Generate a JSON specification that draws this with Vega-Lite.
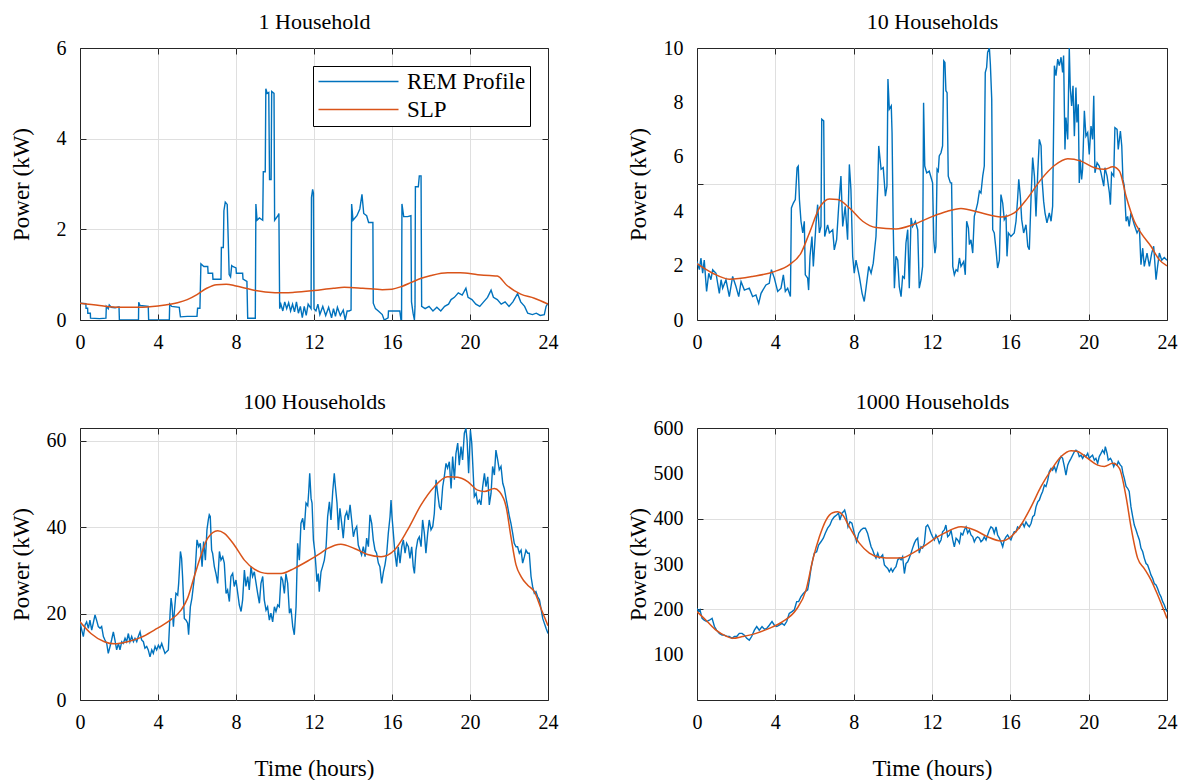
{
"$schema": "https://vega.github.io/schema/vega-lite/v6.json",
"padding": {"left": 9, "top": 9, "right": 5, "bottom": 5},
"background": "#ffffff",
"columns": 2,
"spacing": {"row": 108, "column": 149},
"bounds": "flush",
"resolve": {"scale": {"color": "independent"}},
"config": {
  "font": "Liberation Serif",
  "view": {"stroke": "#262626", "strokeWidth": 1},
  "axis": {"labelFont": "Liberation Serif", "titleFont": "Liberation Serif", "labelFontSize": 20, "labelColor": "#000000", "titleFontSize": 23, "titleFontWeight": "normal", "titleColor": "#000000", "domain": false, "tickColor": "#262626", "tickSize": -6, "tickWidth": 1, "gridColor": "#dfdfdf", "gridWidth": 1, "labelFlush": false, "labelOverlap": false}
},
"datasets": {
"p1r": [{"t":0,"kw":0.37},{"t":0.3,"kw":0.36},{"t":0.31,"kw":0.26},{"t":0.39,"kw":0.26},{"t":0.4,"kw":0.15},{"t":0.53,"kw":0.15},{"t":0.54,"kw":0.04},{"t":1.0,"kw":0.03},{"t":1.33,"kw":0.04},{"t":1.35,"kw":0.3},{"t":1.45,"kw":0.25},{"t":1.5,"kw":0.33},{"t":1.6,"kw":0.28},{"t":1.8,"kw":0.27},{"t":2.0,"kw":0.29},{"t":2.02,"kw":0},{"t":3.0,"kw":0},{"t":3.01,"kw":0.39},{"t":3.08,"kw":0.32},{"t":3.5,"kw":0.3},{"t":3.52,"kw":0},{"t":4.58,"kw":0},{"t":4.6,"kw":0.35},{"t":4.7,"kw":0.3},{"t":5.09,"kw":0.28},{"t":5.15,"kw":0.07},{"t":5.5,"kw":0.08},{"t":6.0,"kw":0.08},{"t":6.03,"kw":0.26},{"t":6.15,"kw":0.26},{"t":6.2,"kw":1.24},{"t":6.35,"kw":1.18},{"t":6.55,"kw":1.18},{"t":6.57,"kw":1.03},{"t":6.8,"kw":1.03},{"t":6.82,"kw":0.9},{"t":7.23,"kw":0.9},{"t":7.25,"kw":1.6},{"t":7.35,"kw":1.6},{"t":7.38,"kw":2.41},{"t":7.45,"kw":2.6},{"t":7.55,"kw":2.55},{"t":7.6,"kw":1.8},{"t":7.65,"kw":1.0},{"t":7.72,"kw":0.95},{"t":7.78,"kw":1.2},{"t":7.83,"kw":1.18},{"t":8.0,"kw":1.15},{"t":8.02,"kw":1.03},{"t":8.34,"kw":1.03},{"t":8.36,"kw":0.9},{"t":8.56,"kw":0.85},{"t":8.6,"kw":0.04},{"t":8.99,"kw":0.04},{"t":9.02,"kw":2.56},{"t":9.08,"kw":2.2},{"t":9.2,"kw":2.25},{"t":9.37,"kw":2.2},{"t":9.4,"kw":3.27},{"t":9.5,"kw":3.27},{"t":9.53,"kw":5.1},{"t":9.6,"kw":5.0},{"t":9.68,"kw":5.02},{"t":9.72,"kw":3.1},{"t":9.8,"kw":3.1},{"t":9.83,"kw":5.04},{"t":9.95,"kw":5.0},{"t":9.98,"kw":2.2},{"t":10.15,"kw":2.3},{"t":10.2,"kw":2.35},{"t":10.24,"kw":0.25},{"t":10.3,"kw":0.35},{"t":10.4,"kw":0.2},{"t":10.5,"kw":0.4},{"t":10.6,"kw":0.25},{"t":10.7,"kw":0.38},{"t":10.8,"kw":0.2},{"t":10.9,"kw":0.35},{"t":11.0,"kw":0.18},{"t":11.1,"kw":0.4},{"t":11.2,"kw":0.15},{"t":11.3,"kw":0.3},{"t":11.4,"kw":0.05},{"t":11.5,"kw":0.3},{"t":11.6,"kw":0.1},{"t":11.7,"kw":0.35},{"t":11.85,"kw":0.25},{"t":11.87,"kw":2.7},{"t":11.93,"kw":2.88},{"t":11.97,"kw":2.8},{"t":12.0,"kw":0.25},{"t":12.1,"kw":0.2},{"t":12.2,"kw":0.35},{"t":12.3,"kw":0.12},{"t":12.45,"kw":0.3},{"t":12.6,"kw":0.1},{"t":12.75,"kw":0.28},{"t":12.9,"kw":0.05},{"t":13.0,"kw":0.25},{"t":13.1,"kw":0.08},{"t":13.2,"kw":0.28},{"t":13.35,"kw":0.1},{"t":13.5,"kw":0.22},{"t":13.6,"kw":0.0},{"t":13.7,"kw":0.2},{"t":13.8,"kw":0.2},{"t":13.9,"kw":0.22},{"t":13.93,"kw":2.56},{"t":14.0,"kw":2.2},{"t":14.2,"kw":2.3},{"t":14.35,"kw":2.45},{"t":14.46,"kw":2.77},{"t":14.55,"kw":2.35},{"t":14.7,"kw":2.3},{"t":14.8,"kw":2.15},{"t":15.02,"kw":2.15},{"t":15.04,"kw":0.37},{"t":15.15,"kw":0.25},{"t":15.3,"kw":0.2},{"t":15.5,"kw":0.12},{"t":15.6,"kw":0.0},{"t":15.8,"kw":0.05},{"t":15.82,"kw":0.2},{"t":16.4,"kw":0.2},{"t":16.46,"kw":0.0},{"t":16.49,"kw":0.0},{"t":16.51,"kw":2.56},{"t":16.6,"kw":2.28},{"t":16.8,"kw":2.28},{"t":16.97,"kw":2.3},{"t":17.0,"kw":0.4},{"t":17.08,"kw":0.15},{"t":17.15,"kw":0.0},{"t":17.18,"kw":0.3},{"t":17.2,"kw":2.94},{"t":17.35,"kw":2.94},{"t":17.4,"kw":3.18},{"t":17.49,"kw":3.18},{"t":17.52,"kw":0.3},{"t":17.7,"kw":0.25},{"t":17.9,"kw":0.3},{"t":18.1,"kw":0.2},{"t":18.3,"kw":0.28},{"t":18.5,"kw":0.2},{"t":18.7,"kw":0.3},{"t":18.9,"kw":0.35},{"t":19.03,"kw":0.45},{"t":19.2,"kw":0.5},{"t":19.4,"kw":0.6},{"t":19.6,"kw":0.55},{"t":19.79,"kw":0.7},{"t":19.9,"kw":0.5},{"t":20.1,"kw":0.45},{"t":20.3,"kw":0.35},{"t":20.5,"kw":0.3},{"t":20.7,"kw":0.4},{"t":20.9,"kw":0.5},{"t":21.08,"kw":0.66},{"t":21.2,"kw":0.5},{"t":21.4,"kw":0.45},{"t":21.6,"kw":0.35},{"t":21.8,"kw":0.4},{"t":22.0,"kw":0.3},{"t":22.2,"kw":0.4},{"t":22.44,"kw":0.58},{"t":22.6,"kw":0.4},{"t":22.8,"kw":0.3},{"t":22.96,"kw":0.15},{"t":23.2,"kw":0.12},{"t":23.4,"kw":0.15},{"t":23.6,"kw":0.1},{"t":23.81,"kw":0.12},{"t":23.9,"kw":0.3},{"t":24.0,"kw":0.37}],
"p1s": [{"t":0,"kw":0.37},{"t":1,"kw":0.32},{"t":2,"kw":0.28},{"t":3,"kw":0.28},{"t":4,"kw":0.31},{"t":5,"kw":0.38},{"t":5.5,"kw":0.45},{"t":6,"kw":0.56},{"t":6.5,"kw":0.7},{"t":7,"kw":0.78},{"t":7.5,"kw":0.79},{"t":8,"kw":0.75},{"t":8.5,"kw":0.7},{"t":9,"kw":0.65},{"t":9.5,"kw":0.62},{"t":10.5,"kw":0.6},{"t":11,"kw":0.61},{"t":12,"kw":0.65},{"t":13,"kw":0.7},{"t":13.55,"kw":0.72},{"t":14.5,"kw":0.7},{"t":15.5,"kw":0.67},{"t":16,"kw":0.68},{"t":16.5,"kw":0.74},{"t":17,"kw":0.83},{"t":17.5,"kw":0.92},{"t":18,"kw":0.98},{"t":18.85,"kw":1.04},{"t":19.5,"kw":1.04},{"t":20.4,"kw":1.0},{"t":21.0,"kw":0.98},{"t":21.4,"kw":0.97},{"t":21.9,"kw":0.76},{"t":22.6,"kw":0.57},{"t":23.3,"kw":0.48},{"t":24,"kw":0.35}],
"p2r": [{"t":0,"kw":2.15},{"t":0.12,"kw":1.85},{"t":0.2,"kw":2.28},{"t":0.29,"kw":1.72},{"t":0.37,"kw":2.2},{"t":0.49,"kw":1.05},{"t":0.6,"kw":1.72},{"t":0.71,"kw":1.48},{"t":0.8,"kw":1.85},{"t":0.97,"kw":1.72},{"t":1.14,"kw":0.98},{"t":1.23,"kw":1.48},{"t":1.31,"kw":1.17},{"t":1.48,"kw":1.48},{"t":1.65,"kw":0.86},{"t":1.82,"kw":1.6},{"t":1.99,"kw":1.23},{"t":2.13,"kw":0.86},{"t":2.25,"kw":1.41},{"t":2.42,"kw":1.1},{"t":2.67,"kw":1.17},{"t":2.84,"kw":0.86},{"t":3.01,"kw":0.92},{"t":3.15,"kw":0.61},{"t":3.27,"kw":0.98},{"t":3.52,"kw":1.29},{"t":3.69,"kw":1.35},{"t":3.8,"kw":1.85},{"t":3.95,"kw":1.54},{"t":4.12,"kw":1.05},{"t":4.29,"kw":1.17},{"t":4.41,"kw":1.66},{"t":4.51,"kw":1.05},{"t":4.63,"kw":1.17},{"t":4.77,"kw":0.86},{"t":4.82,"kw":4.12},{"t":4.92,"kw":4.3},{"t":5.02,"kw":4.43},{"t":5.11,"kw":5.6},{"t":5.17,"kw":5.66},{"t":5.23,"kw":4.43},{"t":5.31,"kw":3.63},{"t":5.4,"kw":3.2},{"t":5.48,"kw":3.63},{"t":5.53,"kw":1.66},{"t":5.65,"kw":1.54},{"t":5.7,"kw":1.1},{"t":5.77,"kw":2.34},{"t":5.87,"kw":3.07},{"t":5.94,"kw":1.97},{"t":6.08,"kw":3.57},{"t":6.16,"kw":4.24},{"t":6.25,"kw":3.2},{"t":6.33,"kw":3.44},{"t":6.37,"kw":7.38},{"t":6.47,"kw":7.32},{"t":6.52,"kw":3.07},{"t":6.67,"kw":3.5},{"t":6.76,"kw":3.2},{"t":6.93,"kw":3.32},{"t":7.01,"kw":2.58},{"t":7.13,"kw":2.95},{"t":7.23,"kw":4.12},{"t":7.35,"kw":5.29},{"t":7.44,"kw":3.44},{"t":7.57,"kw":4.18},{"t":7.69,"kw":2.95},{"t":7.78,"kw":5.72},{"t":7.86,"kw":4.8},{"t":7.95,"kw":2.34},{"t":8.03,"kw":1.72},{"t":8.12,"kw":2.2},{"t":8.29,"kw":1.6},{"t":8.43,"kw":0.98},{"t":8.54,"kw":0.68},{"t":8.63,"kw":1.17},{"t":8.77,"kw":1.97},{"t":8.89,"kw":1.72},{"t":9.0,"kw":2.09},{"t":9.14,"kw":3.07},{"t":9.23,"kw":4.92},{"t":9.28,"kw":6.4},{"t":9.4,"kw":5.54},{"t":9.51,"kw":5.6},{"t":9.62,"kw":4.55},{"t":9.7,"kw":4.92},{"t":9.75,"kw":8.86},{"t":9.82,"kw":7.75},{"t":9.92,"kw":7.87},{"t":9.96,"kw":6.89},{"t":10.02,"kw":3.44},{"t":10.08,"kw":1.17},{"t":10.16,"kw":2.34},{"t":10.25,"kw":2.2},{"t":10.33,"kw":1.23},{"t":10.42,"kw":0.86},{"t":10.5,"kw":1.6},{"t":10.59,"kw":1.54},{"t":10.67,"kw":2.83},{"t":10.76,"kw":3.32},{"t":10.84,"kw":1.17},{"t":10.93,"kw":3.75},{"t":11.01,"kw":3.44},{"t":11.15,"kw":3.63},{"t":11.27,"kw":3.32},{"t":11.35,"kw":1.17},{"t":11.44,"kw":1.48},{"t":11.52,"kw":1.97},{"t":11.57,"kw":7.99},{"t":11.63,"kw":5.66},{"t":11.73,"kw":5.41},{"t":11.86,"kw":5.47},{"t":12.03,"kw":5.04},{"t":12.09,"kw":2.95},{"t":12.15,"kw":2.46},{"t":12.2,"kw":2.7},{"t":12.26,"kw":5.54},{"t":12.32,"kw":5.47},{"t":12.37,"kw":6.03},{"t":12.46,"kw":6.15},{"t":12.54,"kw":6.4},{"t":12.6,"kw":9.53},{"t":12.66,"kw":9.47},{"t":12.71,"kw":8.43},{"t":12.77,"kw":8.36},{"t":12.83,"kw":5.29},{"t":12.94,"kw":5.04},{"t":13.0,"kw":5.04},{"t":13.06,"kw":1.97},{"t":13.14,"kw":1.66},{"t":13.23,"kw":1.85},{"t":13.31,"kw":1.8},{"t":13.4,"kw":2.28},{"t":13.48,"kw":1.97},{"t":13.62,"kw":2.15},{"t":13.7,"kw":1.66},{"t":13.77,"kw":3.63},{"t":13.86,"kw":3.38},{"t":13.91,"kw":2.77},{"t":13.99,"kw":2.95},{"t":14.08,"kw":2.46},{"t":14.16,"kw":3.81},{"t":14.25,"kw":4.06},{"t":14.33,"kw":4.3},{"t":14.42,"kw":4.74},{"t":14.5,"kw":4.67},{"t":14.59,"kw":5.29},{"t":14.67,"kw":5.66},{"t":14.72,"kw":9.1},{"t":14.79,"kw":9.29},{"t":14.84,"kw":9.84},{"t":14.93,"kw":10.0},{"t":14.98,"kw":9.41},{"t":15.05,"kw":8.12},{"t":15.1,"kw":3.32},{"t":15.18,"kw":3.2},{"t":15.27,"kw":2.58},{"t":15.35,"kw":1.91},{"t":15.44,"kw":2.2},{"t":15.52,"kw":4.61},{"t":15.61,"kw":4.3},{"t":15.69,"kw":3.69},{"t":15.78,"kw":3.81},{"t":15.83,"kw":2.34},{"t":15.9,"kw":3.2},{"t":16.03,"kw":3.07},{"t":16.2,"kw":3.2},{"t":16.29,"kw":3.63},{"t":16.37,"kw":4.43},{"t":16.43,"kw":5.17},{"t":16.51,"kw":4.55},{"t":16.58,"kw":3.69},{"t":16.68,"kw":3.2},{"t":16.8,"kw":3.5},{"t":16.89,"kw":2.71},{"t":16.97,"kw":2.58},{"t":17.06,"kw":4.55},{"t":17.14,"kw":5.97},{"t":17.23,"kw":5.29},{"t":17.31,"kw":3.81},{"t":17.4,"kw":5.41},{"t":17.48,"kw":6.64},{"t":17.57,"kw":6.4},{"t":17.62,"kw":5.17},{"t":17.7,"kw":4.37},{"t":17.77,"kw":3.94},{"t":17.87,"kw":3.57},{"t":17.99,"kw":3.94},{"t":18.08,"kw":3.63},{"t":18.16,"kw":4.18},{"t":18.25,"kw":9.35},{"t":18.33,"kw":8.98},{"t":18.42,"kw":9.59},{"t":18.5,"kw":9.35},{"t":18.59,"kw":9.66},{"t":18.67,"kw":9.1},{"t":18.72,"kw":9.72},{"t":18.79,"kw":6.27},{"t":18.84,"kw":7.44},{"t":18.93,"kw":6.64},{"t":19.01,"kw":10.0},{"t":19.06,"kw":8.55},{"t":19.13,"kw":7.87},{"t":19.2,"kw":8.61},{"t":19.27,"kw":6.76},{"t":19.35,"kw":8.55},{"t":19.4,"kw":7.26},{"t":19.47,"kw":7.93},{"t":19.52,"kw":5.04},{"t":19.57,"kw":5.9},{"t":19.64,"kw":5.17},{"t":19.69,"kw":5.54},{"t":19.78,"kw":7.69},{"t":19.86,"kw":6.76},{"t":19.95,"kw":6.89},{"t":20.03,"kw":6.09},{"t":20.12,"kw":7.13},{"t":20.2,"kw":6.64},{"t":20.26,"kw":8.24},{"t":20.32,"kw":5.41},{"t":20.43,"kw":5.78},{"t":20.54,"kw":5.66},{"t":20.63,"kw":5.41},{"t":20.77,"kw":4.92},{"t":20.83,"kw":5.6},{"t":20.94,"kw":5.29},{"t":21.06,"kw":4.67},{"t":21.11,"kw":4.24},{"t":21.17,"kw":5.41},{"t":21.28,"kw":5.29},{"t":21.34,"kw":7.07},{"t":21.45,"kw":7.01},{"t":21.51,"kw":6.27},{"t":21.62,"kw":6.95},{"t":21.69,"kw":6.4},{"t":21.75,"kw":5.17},{"t":21.82,"kw":4.92},{"t":21.91,"kw":3.63},{"t":21.99,"kw":3.81},{"t":22.07,"kw":3.44},{"t":22.16,"kw":3.94},{"t":22.33,"kw":3.5},{"t":22.47,"kw":3.2},{"t":22.59,"kw":3.38},{"t":22.67,"kw":2.03},{"t":22.76,"kw":2.64},{"t":22.84,"kw":1.97},{"t":22.98,"kw":2.46},{"t":23.1,"kw":1.97},{"t":23.22,"kw":2.46},{"t":23.32,"kw":2.71},{"t":23.44,"kw":1.48},{"t":23.52,"kw":1.97},{"t":23.61,"kw":2.46},{"t":23.73,"kw":2.2},{"t":23.86,"kw":2.3},{"t":24.0,"kw":2.2}],
"p2s": [{"t":0,"kw":2.07},{"t":0.8,"kw":1.72},{"t":1.65,"kw":1.5},{"t":2.84,"kw":1.6},{"t":3.95,"kw":1.78},{"t":4.71,"kw":2.03},{"t":5.31,"kw":2.46},{"t":5.74,"kw":3.2},{"t":6.25,"kw":4.12},{"t":6.76,"kw":4.45},{"t":7.18,"kw":4.43},{"t":7.78,"kw":4.12},{"t":8.46,"kw":3.63},{"t":9.14,"kw":3.4},{"t":10.16,"kw":3.35},{"t":11.01,"kw":3.5},{"t":12.03,"kw":3.81},{"t":12.7,"kw":3.98},{"t":13.48,"kw":4.1},{"t":14.5,"kw":3.94},{"t":15.52,"kw":3.79},{"t":16.2,"kw":3.94},{"t":16.89,"kw":4.49},{"t":17.57,"kw":5.17},{"t":18.25,"kw":5.68},{"t":18.93,"kw":5.93},{"t":19.61,"kw":5.84},{"t":20.29,"kw":5.6},{"t":20.8,"kw":5.54},{"t":21.23,"kw":5.63},{"t":21.57,"kw":5.48},{"t":21.91,"kw":4.55},{"t":22.33,"kw":3.63},{"t":22.67,"kw":3.2},{"t":23.18,"kw":2.71},{"t":23.61,"kw":2.21},{"t":24,"kw":1.99}],
"p3r": [{"t":0,"kw":18.1},{"t":0.09,"kw":16.2},{"t":0.17,"kw":14.7},{"t":0.26,"kw":17.4},{"t":0.34,"kw":18.1},{"t":0.43,"kw":16.6},{"t":0.51,"kw":18.5},{"t":0.6,"kw":16.2},{"t":0.68,"kw":17.8},{"t":0.77,"kw":19.7},{"t":0.85,"kw":18.5},{"t":0.94,"kw":17.0},{"t":1.03,"kw":16.6},{"t":1.11,"kw":17.0},{"t":1.2,"kw":14.7},{"t":1.28,"kw":13.9},{"t":1.37,"kw":13.1},{"t":1.45,"kw":10.8},{"t":1.54,"kw":12.4},{"t":1.62,"kw":13.9},{"t":1.71,"kw":15.8},{"t":1.79,"kw":13.9},{"t":1.88,"kw":11.6},{"t":1.97,"kw":13.1},{"t":2.05,"kw":11.6},{"t":2.14,"kw":13.5},{"t":2.22,"kw":13.1},{"t":2.31,"kw":14.3},{"t":2.39,"kw":13.5},{"t":2.48,"kw":15.4},{"t":2.56,"kw":13.5},{"t":2.65,"kw":14.7},{"t":2.74,"kw":13.5},{"t":2.82,"kw":14.3},{"t":2.91,"kw":13.5},{"t":2.99,"kw":14.7},{"t":3.08,"kw":15.8},{"t":3.16,"kw":13.9},{"t":3.25,"kw":13.5},{"t":3.33,"kw":12.0},{"t":3.42,"kw":12.4},{"t":3.5,"kw":11.6},{"t":3.59,"kw":10.0},{"t":3.68,"kw":11.6},{"t":3.76,"kw":10.8},{"t":3.85,"kw":12.4},{"t":3.93,"kw":11.6},{"t":4.02,"kw":12.7},{"t":4.1,"kw":12.0},{"t":4.19,"kw":13.1},{"t":4.27,"kw":12.0},{"t":4.36,"kw":10.8},{"t":4.44,"kw":11.2},{"t":4.53,"kw":11.6},{"t":4.62,"kw":20.1},{"t":4.67,"kw":23.6},{"t":4.72,"kw":22.0},{"t":4.79,"kw":17.0},{"t":4.84,"kw":20.5},{"t":4.92,"kw":24.7},{"t":5.01,"kw":24.3},{"t":5.06,"kw":27.0},{"t":5.15,"kw":34.4},{"t":5.21,"kw":32.8},{"t":5.26,"kw":28.6},{"t":5.35,"kw":18.9},{"t":5.44,"kw":18.5},{"t":5.52,"kw":17.8},{"t":5.57,"kw":15.1},{"t":5.66,"kw":21.6},{"t":5.74,"kw":23.6},{"t":5.83,"kw":27.0},{"t":5.91,"kw":30.1},{"t":6.0,"kw":37.1},{"t":6.09,"kw":35.5},{"t":6.17,"kw":36.3},{"t":6.26,"kw":30.9},{"t":6.34,"kw":36.7},{"t":6.43,"kw":32.4},{"t":6.51,"kw":39.4},{"t":6.58,"kw":41.7},{"t":6.63,"kw":42.9},{"t":6.68,"kw":42.5},{"t":6.75,"kw":34.7},{"t":6.8,"kw":34.0},{"t":6.89,"kw":30.9},{"t":6.97,"kw":29.3},{"t":7.06,"kw":27.0},{"t":7.15,"kw":34.4},{"t":7.23,"kw":32.4},{"t":7.32,"kw":33.2},{"t":7.4,"kw":31.7},{"t":7.49,"kw":24.7},{"t":7.57,"kw":25.5},{"t":7.66,"kw":22.8},{"t":7.74,"kw":28.6},{"t":7.83,"kw":29.3},{"t":7.91,"kw":26.3},{"t":8.0,"kw":27.8},{"t":8.09,"kw":24.7},{"t":8.17,"kw":22.0},{"t":8.26,"kw":20.5},{"t":8.34,"kw":23.2},{"t":8.43,"kw":30.1},{"t":8.51,"kw":26.3},{"t":8.6,"kw":28.6},{"t":8.68,"kw":25.5},{"t":8.77,"kw":30.9},{"t":8.85,"kw":28.6},{"t":8.94,"kw":29.7},{"t":9.03,"kw":27.0},{"t":9.11,"kw":24.7},{"t":9.2,"kw":22.4},{"t":9.28,"kw":27.0},{"t":9.37,"kw":28.6},{"t":9.45,"kw":23.2},{"t":9.54,"kw":20.8},{"t":9.62,"kw":21.6},{"t":9.71,"kw":18.5},{"t":9.79,"kw":20.1},{"t":9.88,"kw":18.1},{"t":9.97,"kw":21.6},{"t":10.05,"kw":20.5},{"t":10.14,"kw":22.0},{"t":10.22,"kw":21.6},{"t":10.31,"kw":28.6},{"t":10.39,"kw":27.8},{"t":10.48,"kw":24.7},{"t":10.56,"kw":29.3},{"t":10.65,"kw":27.0},{"t":10.74,"kw":20.1},{"t":10.82,"kw":21.2},{"t":10.91,"kw":17.0},{"t":10.99,"kw":15.1},{"t":11.08,"kw":21.6},{"t":11.16,"kw":36.3},{"t":11.25,"kw":32.4},{"t":11.33,"kw":40.9},{"t":11.42,"kw":42.1},{"t":11.5,"kw":39.4},{"t":11.59,"kw":45.6},{"t":11.68,"kw":45.0},{"t":11.73,"kw":48.3},{"t":11.78,"kw":52.5},{"t":11.85,"kw":46.7},{"t":11.9,"kw":45.6},{"t":11.97,"kw":37.1},{"t":12.05,"kw":34.0},{"t":12.1,"kw":30.9},{"t":12.15,"kw":27.4},{"t":12.22,"kw":29.3},{"t":12.27,"kw":25.1},{"t":12.36,"kw":29.7},{"t":12.44,"kw":30.9},{"t":12.53,"kw":32.4},{"t":12.62,"kw":35.5},{"t":12.7,"kw":42.5},{"t":12.79,"kw":45.9},{"t":12.87,"kw":41.7},{"t":12.96,"kw":48.3},{"t":13.04,"kw":52.5},{"t":13.09,"kw":49.8},{"t":13.18,"kw":45.6},{"t":13.25,"kw":39.4},{"t":13.33,"kw":44.4},{"t":13.42,"kw":40.9},{"t":13.5,"kw":37.5},{"t":13.59,"kw":42.5},{"t":13.68,"kw":43.6},{"t":13.76,"kw":41.7},{"t":13.85,"kw":45.2},{"t":13.93,"kw":41.7},{"t":14.02,"kw":37.8},{"t":14.1,"kw":39.4},{"t":14.19,"kw":40.2},{"t":14.27,"kw":35.9},{"t":14.36,"kw":34.7},{"t":14.44,"kw":33.6},{"t":14.53,"kw":35.5},{"t":14.62,"kw":33.2},{"t":14.7,"kw":37.5},{"t":14.79,"kw":35.5},{"t":14.87,"kw":42.9},{"t":14.96,"kw":40.9},{"t":15.04,"kw":37.1},{"t":15.13,"kw":34.7},{"t":15.21,"kw":34.0},{"t":15.3,"kw":31.7},{"t":15.38,"kw":30.9},{"t":15.47,"kw":27.0},{"t":15.56,"kw":29.7},{"t":15.64,"kw":31.3},{"t":15.73,"kw":34.0},{"t":15.81,"kw":38.6},{"t":15.9,"kw":42.5},{"t":15.95,"kw":46.3},{"t":16.0,"kw":42.5},{"t":16.07,"kw":38.6},{"t":16.15,"kw":34.0},{"t":16.24,"kw":30.9},{"t":16.32,"kw":35.5},{"t":16.41,"kw":31.7},{"t":16.5,"kw":35.5},{"t":16.58,"kw":37.1},{"t":16.67,"kw":34.0},{"t":16.75,"kw":36.3},{"t":16.84,"kw":35.5},{"t":16.92,"kw":32.8},{"t":17.01,"kw":35.5},{"t":17.09,"kw":30.9},{"t":17.15,"kw":29.3},{"t":17.23,"kw":34.7},{"t":17.32,"kw":37.1},{"t":17.4,"kw":37.8},{"t":17.49,"kw":35.5},{"t":17.57,"kw":41.7},{"t":17.66,"kw":38.6},{"t":17.74,"kw":34.0},{"t":17.83,"kw":38.6},{"t":17.91,"kw":41.7},{"t":18.0,"kw":39.4},{"t":18.09,"kw":40.2},{"t":18.17,"kw":43.2},{"t":18.26,"kw":51.0},{"t":18.34,"kw":47.9},{"t":18.43,"kw":44.8},{"t":18.51,"kw":44.0},{"t":18.6,"kw":49.4},{"t":18.68,"kw":51.7},{"t":18.77,"kw":54.8},{"t":18.85,"kw":53.7},{"t":18.94,"kw":55.2},{"t":19.03,"kw":49.0},{"t":19.11,"kw":56.4},{"t":19.2,"kw":51.0},{"t":19.28,"kw":57.1},{"t":19.37,"kw":59.5},{"t":19.45,"kw":54.4},{"t":19.54,"kw":58.7},{"t":19.62,"kw":55.6},{"t":19.71,"kw":61.8},{"t":19.79,"kw":62.9},{"t":19.85,"kw":60.2},{"t":19.93,"kw":52.5},{"t":20.02,"kw":62.5},{"t":20.09,"kw":59.5},{"t":20.14,"kw":54.8},{"t":20.22,"kw":47.1},{"t":20.31,"kw":47.9},{"t":20.39,"kw":45.6},{"t":20.48,"kw":46.3},{"t":20.56,"kw":45.2},{"t":20.65,"kw":49.4},{"t":20.74,"kw":52.5},{"t":20.82,"kw":49.4},{"t":20.91,"kw":51.7},{"t":20.99,"kw":45.2},{"t":21.08,"kw":47.9},{"t":21.16,"kw":54.1},{"t":21.25,"kw":52.1},{"t":21.33,"kw":57.9},{"t":21.42,"kw":55.6},{"t":21.5,"kw":53.3},{"t":21.59,"kw":54.1},{"t":21.68,"kw":50.2},{"t":21.76,"kw":49.0},{"t":21.85,"kw":46.7},{"t":21.93,"kw":44.8},{"t":22.02,"kw":42.5},{"t":22.1,"kw":40.9},{"t":22.19,"kw":38.6},{"t":22.27,"kw":36.3},{"t":22.36,"kw":35.5},{"t":22.44,"kw":35.5},{"t":22.53,"kw":34.0},{"t":22.62,"kw":34.7},{"t":22.7,"kw":31.7},{"t":22.79,"kw":33.2},{"t":22.87,"kw":34.7},{"t":22.96,"kw":34.0},{"t":23.04,"kw":34.0},{"t":23.13,"kw":28.6},{"t":23.21,"kw":26.3},{"t":23.3,"kw":24.7},{"t":23.38,"kw":25.1},{"t":23.47,"kw":23.9},{"t":23.56,"kw":23.2},{"t":23.64,"kw":21.2},{"t":23.73,"kw":18.9},{"t":23.81,"kw":17.8},{"t":23.9,"kw":16.6},{"t":24.0,"kw":15.4}],
"p3s": [{"t":0,"kw":18.1},{"t":0.56,"kw":15.4},{"t":1.25,"kw":13.5},{"t":1.76,"kw":13.0},{"t":2.44,"kw":13.5},{"t":3.13,"kw":14.5},{"t":3.81,"kw":16.2},{"t":4.5,"kw":18.1},{"t":5.18,"kw":20.8},{"t":5.52,"kw":23.6},{"t":5.86,"kw":28.6},{"t":6.21,"kw":33.6},{"t":6.55,"kw":37.5},{"t":7.06,"kw":39.2},{"t":7.4,"kw":38.6},{"t":7.91,"kw":35.9},{"t":8.43,"kw":32.4},{"t":8.94,"kw":30.3},{"t":9.62,"kw":29.3},{"t":10.31,"kw":29.3},{"t":10.99,"kw":30.5},{"t":11.68,"kw":32.2},{"t":12.36,"kw":34.1},{"t":12.7,"kw":35.1},{"t":13.38,"kw":36.1},{"t":14.07,"kw":35.1},{"t":14.75,"kw":33.7},{"t":15.44,"kw":33.2},{"t":16.12,"kw":34.7},{"t":16.8,"kw":39.4},{"t":17.49,"kw":45.2},{"t":18.17,"kw":49.4},{"t":18.85,"kw":51.7},{"t":19.37,"kw":51.6},{"t":19.88,"kw":50.6},{"t":20.39,"kw":48.6},{"t":20.74,"kw":48.3},{"t":21.25,"kw":49.0},{"t":21.5,"kw":48.3},{"t":21.85,"kw":44.8},{"t":22.1,"kw":37.8},{"t":22.36,"kw":31.3},{"t":22.62,"kw":28.6},{"t":22.96,"kw":26.6},{"t":23.3,"kw":25.1},{"t":23.64,"kw":21.2},{"t":24,"kw":17.2}],
"p4r": [{"t":0,"kw":202},{"t":0.09,"kw":195},{"t":0.15,"kw":199},{"t":0.26,"kw":180},{"t":0.37,"kw":176},{"t":0.49,"kw":173},{"t":0.63,"kw":176},{"t":0.77,"kw":180},{"t":0.89,"kw":162},{"t":1.0,"kw":154},{"t":1.14,"kw":147},{"t":1.28,"kw":143},{"t":1.4,"kw":143},{"t":1.51,"kw":141},{"t":1.65,"kw":140},{"t":1.79,"kw":136},{"t":1.91,"kw":140},{"t":2.03,"kw":140},{"t":2.16,"kw":147},{"t":2.3,"kw":147},{"t":2.42,"kw":143},{"t":2.54,"kw":136},{"t":2.67,"kw":132},{"t":2.79,"kw":140},{"t":2.93,"kw":154},{"t":3.05,"kw":162},{"t":3.18,"kw":154},{"t":3.32,"kw":162},{"t":3.44,"kw":156},{"t":3.56,"kw":158},{"t":3.69,"kw":165},{"t":3.83,"kw":173},{"t":3.95,"kw":165},{"t":4.07,"kw":162},{"t":4.2,"kw":165},{"t":4.34,"kw":169},{"t":4.46,"kw":165},{"t":4.58,"kw":173},{"t":4.71,"kw":191},{"t":4.85,"kw":195},{"t":4.97,"kw":199},{"t":5.09,"kw":217},{"t":5.19,"kw":217},{"t":5.31,"kw":228},{"t":5.43,"kw":235},{"t":5.53,"kw":239},{"t":5.65,"kw":243},{"t":5.74,"kw":265},{"t":5.82,"kw":290},{"t":5.91,"kw":309},{"t":5.99,"kw":324},{"t":6.11,"kw":327},{"t":6.21,"kw":342},{"t":6.33,"kw":349},{"t":6.45,"kw":357},{"t":6.55,"kw":368},{"t":6.67,"kw":379},{"t":6.79,"kw":386},{"t":6.89,"kw":397},{"t":7.01,"kw":404},{"t":7.13,"kw":408},{"t":7.23,"kw":412},{"t":7.3,"kw":397},{"t":7.4,"kw":412},{"t":7.47,"kw":415},{"t":7.54,"kw":419},{"t":7.61,"kw":408},{"t":7.71,"kw":382},{"t":7.81,"kw":393},{"t":7.91,"kw":390},{"t":8.03,"kw":368},{"t":8.15,"kw":349},{"t":8.26,"kw":368},{"t":8.37,"kw":375},{"t":8.49,"kw":379},{"t":8.6,"kw":379},{"t":8.71,"kw":368},{"t":8.8,"kw":353},{"t":8.89,"kw":338},{"t":8.97,"kw":331},{"t":9.06,"kw":320},{"t":9.14,"kw":313},{"t":9.23,"kw":324},{"t":9.31,"kw":313},{"t":9.4,"kw":316},{"t":9.48,"kw":320},{"t":9.57,"kw":298},{"t":9.65,"kw":294},{"t":9.74,"kw":290},{"t":9.82,"kw":283},{"t":9.91,"kw":290},{"t":9.99,"kw":283},{"t":10.08,"kw":290},{"t":10.16,"kw":294},{"t":10.25,"kw":309},{"t":10.33,"kw":313},{"t":10.42,"kw":309},{"t":10.5,"kw":316},{"t":10.59,"kw":279},{"t":10.67,"kw":301},{"t":10.76,"kw":305},{"t":10.84,"kw":313},{"t":10.93,"kw":324},{"t":11.01,"kw":335},{"t":11.1,"kw":346},{"t":11.18,"kw":353},{"t":11.27,"kw":357},{"t":11.35,"kw":324},{"t":11.44,"kw":338},{"t":11.52,"kw":335},{"t":11.61,"kw":346},{"t":11.69,"kw":382},{"t":11.78,"kw":386},{"t":11.86,"kw":379},{"t":11.95,"kw":368},{"t":12.03,"kw":360},{"t":12.12,"kw":353},{"t":12.2,"kw":364},{"t":12.29,"kw":357},{"t":12.37,"kw":346},{"t":12.46,"kw":353},{"t":12.54,"kw":371},{"t":12.63,"kw":375},{"t":12.71,"kw":386},{"t":12.8,"kw":360},{"t":12.89,"kw":364},{"t":12.97,"kw":375},{"t":13.06,"kw":353},{"t":13.14,"kw":338},{"t":13.23,"kw":357},{"t":13.31,"kw":353},{"t":13.4,"kw":346},{"t":13.48,"kw":368},{"t":13.57,"kw":364},{"t":13.65,"kw":375},{"t":13.74,"kw":382},{"t":13.82,"kw":368},{"t":13.91,"kw":375},{"t":13.99,"kw":364},{"t":14.08,"kw":360},{"t":14.16,"kw":349},{"t":14.25,"kw":357},{"t":14.33,"kw":360},{"t":14.42,"kw":357},{"t":14.5,"kw":349},{"t":14.59,"kw":353},{"t":14.67,"kw":360},{"t":14.76,"kw":353},{"t":14.84,"kw":364},{"t":14.93,"kw":375},{"t":15.01,"kw":382},{"t":15.1,"kw":379},{"t":15.18,"kw":368},{"t":15.27,"kw":382},{"t":15.35,"kw":364},{"t":15.44,"kw":357},{"t":15.52,"kw":349},{"t":15.61,"kw":338},{"t":15.69,"kw":353},{"t":15.78,"kw":360},{"t":15.86,"kw":364},{"t":15.95,"kw":357},{"t":16.03,"kw":353},{"t":16.12,"kw":364},{"t":16.2,"kw":371},{"t":16.29,"kw":371},{"t":16.37,"kw":382},{"t":16.46,"kw":379},{"t":16.54,"kw":386},{"t":16.63,"kw":390},{"t":16.71,"kw":382},{"t":16.8,"kw":393},{"t":16.89,"kw":386},{"t":16.97,"kw":382},{"t":17.06,"kw":390},{"t":17.14,"kw":404},{"t":17.23,"kw":408},{"t":17.31,"kw":426},{"t":17.4,"kw":437},{"t":17.48,"kw":441},{"t":17.57,"kw":452},{"t":17.65,"kw":460},{"t":17.74,"kw":474},{"t":17.82,"kw":471},{"t":17.91,"kw":485},{"t":17.99,"kw":504},{"t":18.08,"kw":511},{"t":18.16,"kw":507},{"t":18.25,"kw":515},{"t":18.33,"kw":504},{"t":18.42,"kw":518},{"t":18.5,"kw":529},{"t":18.59,"kw":537},{"t":18.67,"kw":533},{"t":18.76,"kw":515},{"t":18.84,"kw":496},{"t":18.93,"kw":518},{"t":19.01,"kw":526},{"t":19.1,"kw":533},{"t":19.18,"kw":540},{"t":19.27,"kw":548},{"t":19.35,"kw":551},{"t":19.44,"kw":548},{"t":19.52,"kw":537},{"t":19.61,"kw":540},{"t":19.69,"kw":533},{"t":19.78,"kw":540},{"t":19.86,"kw":537},{"t":19.95,"kw":544},{"t":20.03,"kw":533},{"t":20.12,"kw":537},{"t":20.2,"kw":540},{"t":20.29,"kw":529},{"t":20.37,"kw":533},{"t":20.46,"kw":522},{"t":20.54,"kw":537},{"t":20.63,"kw":544},{"t":20.71,"kw":551},{"t":20.8,"kw":544},{"t":20.85,"kw":559},{"t":20.94,"kw":544},{"t":21.0,"kw":529},{"t":21.11,"kw":533},{"t":21.17,"kw":529},{"t":21.28,"kw":515},{"t":21.34,"kw":522},{"t":21.45,"kw":518},{"t":21.51,"kw":526},{"t":21.62,"kw":518},{"t":21.69,"kw":515},{"t":21.75,"kw":500},{"t":21.82,"kw":489},{"t":21.91,"kw":471},{"t":21.99,"kw":467},{"t":22.07,"kw":460},{"t":22.16,"kw":426},{"t":22.25,"kw":404},{"t":22.33,"kw":386},{"t":22.42,"kw":375},{"t":22.5,"kw":364},{"t":22.59,"kw":353},{"t":22.67,"kw":335},{"t":22.76,"kw":327},{"t":22.84,"kw":313},{"t":22.93,"kw":301},{"t":23.01,"kw":298},{"t":23.1,"kw":287},{"t":23.18,"kw":276},{"t":23.27,"kw":268},{"t":23.35,"kw":257},{"t":23.44,"kw":254},{"t":23.52,"kw":246},{"t":23.61,"kw":235},{"t":23.69,"kw":228},{"t":23.78,"kw":217},{"t":23.86,"kw":210},{"t":23.95,"kw":199},{"t":24.0,"kw":195}],
"p4s": [{"t":0,"kw":195},{"t":0.46,"kw":176},{"t":0.97,"kw":154},{"t":1.48,"kw":141},{"t":1.82,"kw":136},{"t":2.33,"kw":140},{"t":3.01,"kw":147},{"t":3.69,"kw":158},{"t":4.37,"kw":173},{"t":5.06,"kw":199},{"t":5.57,"kw":243},{"t":5.91,"kw":309},{"t":6.25,"kw":360},{"t":6.59,"kw":397},{"t":6.93,"kw":413},{"t":7.18,"kw":415},{"t":7.44,"kw":408},{"t":7.78,"kw":382},{"t":8.29,"kw":346},{"t":8.8,"kw":324},{"t":9.31,"kw":315},{"t":9.99,"kw":313},{"t":10.5,"kw":314},{"t":11.01,"kw":324},{"t":11.69,"kw":342},{"t":12.17,"kw":357},{"t":12.63,"kw":368},{"t":13.48,"kw":382},{"t":14.16,"kw":375},{"t":14.84,"kw":360},{"t":15.52,"kw":351},{"t":16.03,"kw":360},{"t":16.54,"kw":386},{"t":17.06,"kw":426},{"t":17.57,"kw":471},{"t":18.08,"kw":507},{"t":18.59,"kw":537},{"t":19.1,"kw":550},{"t":19.44,"kw":548},{"t":19.95,"kw":533},{"t":20.46,"kw":518},{"t":20.8,"kw":515},{"t":21.23,"kw":522},{"t":21.57,"kw":511},{"t":21.91,"kw":448},{"t":22.16,"kw":382},{"t":22.5,"kw":313},{"t":22.84,"kw":290},{"t":23.18,"kw":265},{"t":23.52,"kw":232},{"t":24,"kw":180}]
},
"concat": [
{
 "width": 468, "height": 272,
 "layer": [
  {"data": {"name": "p1r"}, "mark": {"type": "line", "strokeWidth": 1.4, "clip": true},
   "encoding": {
    "x": {"field": "t", "type": "quantitative", "scale": {"domain": [0, 24], "nice": false}, "axis": {"orient": "bottom", "values": [0,4,8,12,16,20,24], "title": null, "labelPadding": 18, "grid": true, "gridColor": {"condition": {"test": "datum.value == 0 || datum.value == 24", "value": "transparent"}, "value": "#dfdfdf"}}},
    "y": {"field": "kw", "type": "quantitative", "scale": {"domain": [0, 6], "nice": false}, "axis": {"orient": "left", "values": [0,2,4,6], "title": "Power (kW)", "titleX": -59, "titleY": 136, "titleAngle": 270, "titleAlign": "center", "titleBaseline": "middle", "labelPadding": 20, "grid": true, "gridColor": {"condition": {"test": "datum.value == 0 || datum.value == 6", "value": "transparent"}, "value": "#dfdfdf"}}},
    "color": {"datum": "REM Profile", "type": "nominal", "scale": {"domain": ["REM Profile", "SLP"], "range": ["#0072BD", "#D95319"]},
      "legend": {"orient": "top-right", "offset": 18, "title": null, "symbolType": "M-4,0H4", "symbolSize": 400, "symbolOffset": 30, "symbolStrokeWidth": 1.5, "labelFont": "Liberation Serif", "labelFontSize": 23, "labelColor": "#000000", "labelOffset": 37, "labelLimit": 300, "strokeColor": "#000000", "fillColor": "#ffffff", "padding": 4, "rowPadding": 4}}
   }},
  {"data": {"name": "p1s"}, "mark": {"type": "line", "strokeWidth": 1.5, "interpolate": "monotone", "clip": true},
   "encoding": {
    "x": {"field": "t", "type": "quantitative", "axis": {"orient": "top", "values": [0,4,8,12,16,20,24], "labels": false, "grid": false, "title": "1 Household", "titleFontSize": 22, "titleY": -20, "titleBaseline": "alphabetic"}},
    "y": {"field": "kw", "type": "quantitative", "axis": {"orient": "right", "values": [2,4], "labels": false, "grid": false, "title": null}},
    "color": {"datum": "SLP", "type": "nominal"}
   }}
 ],
 "resolve": {"axis": {"x": "independent", "y": "independent"}}
},
{
 "width": 470, "height": 272,
 "layer": [
  {"data": {"name": "p2r"}, "mark": {"type": "line", "strokeWidth": 1.4, "clip": true},
   "encoding": {
    "x": {"field": "t", "type": "quantitative", "scale": {"domain": [0, 24], "nice": false}, "axis": {"orient": "bottom", "values": [0,4,8,12,16,20,24], "title": null, "labelPadding": 18, "grid": true, "gridColor": {"condition": {"test": "datum.value == 0 || datum.value == 24", "value": "transparent"}, "value": "#dfdfdf"}}},
    "y": {"field": "kw", "type": "quantitative", "scale": {"domain": [0, 10], "nice": false}, "axis": {"orient": "left", "values": [0,2,4,5,6,8,10], "labelExpr": "datum.value == 5 ? '' : datum.label", "title": "Power (kW)", "titleX": -59, "titleY": 136, "titleAngle": 270, "titleAlign": "center", "titleBaseline": "middle", "labelPadding": 20, "grid": true, "gridColor": {"condition": {"test": "datum.value == 5", "value": "#dfdfdf"}, "value": "transparent"}, "tickColor": {"condition": {"test": "datum.value == 5", "value": "#262626"}, "value": "transparent"}}},
    "color": {"datum": "REM Profile", "type": "nominal", "scale": {"domain": ["REM Profile", "SLP"], "range": ["#0072BD", "#D95319"]}, "legend": null}
   }},
  {"data": {"name": "p2s"}, "mark": {"type": "line", "strokeWidth": 1.5, "interpolate": "monotone", "clip": true},
   "encoding": {
    "x": {"field": "t", "type": "quantitative", "axis": {"orient": "top", "values": [0,4,8,12,16,20,24], "labels": false, "grid": false, "title": "10 Households", "titleFontSize": 22, "titleY": -20, "titleBaseline": "alphabetic"}},
    "y": {"field": "kw", "type": "quantitative", "axis": {"orient": "right", "values": [5], "labels": false, "grid": false, "title": null}},
    "color": {"datum": "SLP", "type": "nominal", "legend": null}
   }}
 ],
 "resolve": {"axis": {"x": "independent", "y": "independent"}}
},
{
 "width": 468, "height": 272,
 "layer": [
  {"data": {"name": "p3r"}, "mark": {"type": "line", "strokeWidth": 1.4, "clip": true},
   "encoding": {
    "x": {"field": "t", "type": "quantitative", "scale": {"domain": [0, 24], "nice": false}, "axis": {"orient": "bottom", "values": [0,4,8,12,16,20,24], "title": "Time (hours)", "titleY": 68, "titleBaseline": "middle", "labelPadding": 18, "grid": true, "gridColor": {"condition": {"test": "datum.value == 0 || datum.value == 24", "value": "transparent"}, "value": "#dfdfdf"}}},
    "y": {"field": "kw", "type": "quantitative", "scale": {"domain": [0, 63], "nice": false}, "axis": {"orient": "left", "values": [0,20,40,60], "title": "Power (kW)", "titleX": -59, "titleY": 136, "titleAngle": 270, "titleAlign": "center", "titleBaseline": "middle", "labelPadding": 20, "grid": true, "gridColor": {"condition": {"test": "datum.value == 0", "value": "transparent"}, "value": "#dfdfdf"}}},
    "color": {"datum": "REM Profile", "type": "nominal", "scale": {"domain": ["REM Profile", "SLP"], "range": ["#0072BD", "#D95319"]}, "legend": null}
   }},
  {"data": {"name": "p3s"}, "mark": {"type": "line", "strokeWidth": 1.5, "interpolate": "monotone", "clip": true},
   "encoding": {
    "x": {"field": "t", "type": "quantitative", "axis": {"orient": "top", "values": [0,4,8,12,16,20,24], "labels": false, "grid": false, "title": "100 Households", "titleFontSize": 22, "titleY": -20, "titleBaseline": "alphabetic"}},
    "y": {"field": "kw", "type": "quantitative", "axis": {"orient": "right", "values": [20,40,60], "labels": false, "grid": false, "title": null}},
    "color": {"datum": "SLP", "type": "nominal", "legend": null}
   }}
 ],
 "resolve": {"axis": {"x": "independent", "y": "independent"}}
},
{
 "width": 470, "height": 272,
 "layer": [
  {"data": {"name": "p4r"}, "mark": {"type": "line", "strokeWidth": 1.4, "clip": true},
   "encoding": {
    "x": {"field": "t", "type": "quantitative", "scale": {"domain": [0, 24], "nice": false}, "axis": {"orient": "bottom", "values": [0,4,8,12,16,20,24], "title": "Time (hours)", "titleY": 68, "titleBaseline": "middle", "labelPadding": 18, "grid": true, "gridColor": {"condition": {"test": "datum.value == 0 || datum.value == 24", "value": "transparent"}, "value": "#dfdfdf"}}},
    "y": {"field": "kw", "type": "quantitative", "scale": {"domain": [0, 600], "nice": false}, "axis": {"orient": "left", "values": [100,200,300,400,500,600], "title": "Power (kW)", "titleX": -59, "titleY": 136, "titleAngle": 270, "titleAlign": "center", "titleBaseline": "middle", "labelPadding": 20, "grid": true, "gridColor": {"condition": {"test": "datum.value == 200 || datum.value == 400", "value": "#dfdfdf"}, "value": "transparent"}, "tickColor": {"condition": {"test": "datum.value == 200 || datum.value == 400", "value": "#262626"}, "value": "transparent"}}},
    "color": {"datum": "REM Profile", "type": "nominal", "scale": {"domain": ["REM Profile", "SLP"], "range": ["#0072BD", "#D95319"]}, "legend": null}
   }},
  {"data": {"name": "p4s"}, "mark": {"type": "line", "strokeWidth": 1.5, "interpolate": "monotone", "clip": true},
   "encoding": {
    "x": {"field": "t", "type": "quantitative", "axis": {"orient": "top", "values": [0,4,8,12,16,20,24], "labels": false, "grid": false, "title": "1000 Households", "titleFontSize": 22, "titleY": -20, "titleBaseline": "alphabetic"}},
    "y": {"field": "kw", "type": "quantitative", "axis": {"orient": "right", "values": [200,400], "labels": false, "grid": false, "title": null}},
    "color": {"datum": "SLP", "type": "nominal", "legend": null}
   }}
 ],
 "resolve": {"axis": {"x": "independent", "y": "independent"}}
}
]
}
